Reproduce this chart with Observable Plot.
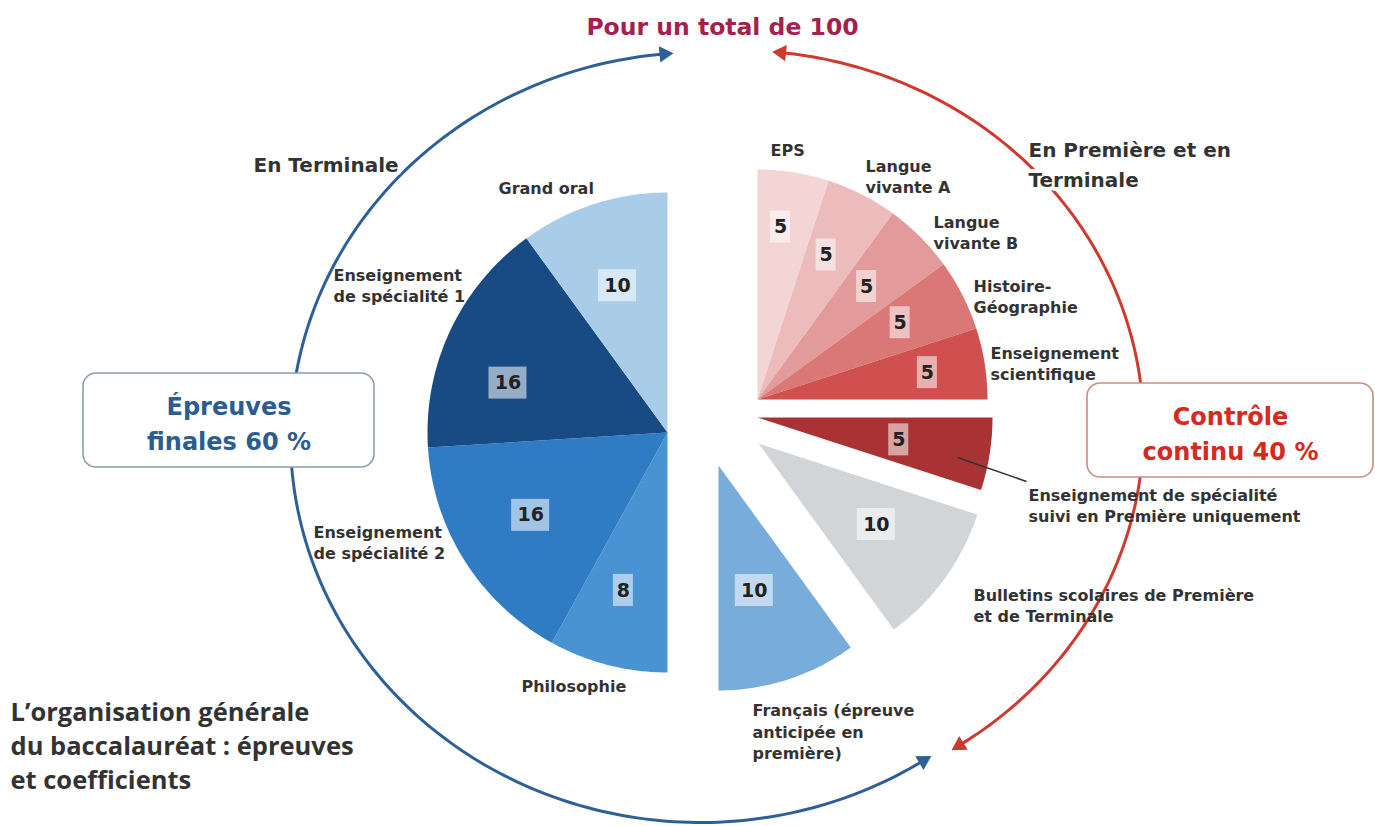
<!DOCTYPE html>
<html><head><meta charset="utf-8">
<script src="https://cdn.jsdelivr.net/npm/d3@7"></script>
<script src="https://cdn.jsdelivr.net/npm/@observablehq/plot@0.6"></script>
<style>html,body{margin:0;padding:0;background:#fff}svg{display:block}</style>
</head><body><div id="chart"></div>
<script>
// ---------- DATA (clockwise from 12 o'clock) ----------
const epreuves = ["EPS","Langue vivante A","Langue vivante B","Histoire-Géographie","Enseignement scientifique","Enseignement de spécialité suivi en Première uniquement","Bulletins scolaires de Première et de Terminale","Français (épreuve anticipée en première)","Philosophie","Enseignement de spécialité 2","Enseignement de spécialité 1","Grand oral"];
const coefficients = [5,5,5,5,5,5,10,10,8,16,16,10];
const modalites = ["Contrôle continu","Contrôle continu","Contrôle continu","Contrôle continu","Contrôle continu","Contrôle continu","Contrôle continu","Épreuves finales","Épreuves finales","Épreuves finales","Épreuves finales","Épreuves finales"];
const etiquettes = ["EPS","Langue\nvivante A","Langue\nvivante B","Histoire-\nGéographie","Enseignement\nscientifique","Enseignement de spécialité\nsuivi en Première uniquement","Bulletins scolaires de Première\net de Terminale","Français (épreuve\nanticipée en\npremière)","Philosophie","Enseignement\nde spécialité 2","Enseignement\nde spécialité 1","Grand oral"];
const titreTotal = "Pour un total de 100";
const titresGroupes = ["Épreuves\nfinales 60 %","Contrôle\ncontinu 40 %"];
const periodes = ["En Terminale","En Première et en\nTerminale"];
const titre = "L’organisation générale\ndu baccalauréat : épreuves\net coefficients";

// ---------- STYLE / LAYOUT ----------
const colors = ["#f4d5d6","#ecbcbc","#e29a9a","#da7878","#d0504f","#a93334","#d1d5d7","#78acdb","#4a93d3","#2f7bc4","#184a84","#a9cde9"];
const sliceGeom = [
  {cx:757,cy:399,r:230},{cx:757,cy:399,r:230},{cx:757,cy:399,r:230},{cx:757,cy:399,r:230},{cx:757,cy:399,r:230},
  {cx:757,cy:417,r:235},{cx:758,cy:443,r:230},{cx:718,cy:465,r:225},
  {cx:667,cy:432,r:240},{cx:667,cy:432,r:240},{cx:667,cy:432,r:240},{cx:667,cy:432,r:240}
];
const numR = [174,160,157,162,172,143,143,130,164,160,167,155];
const numShift = [-1.4,-1.6,-1,-1.3,0,0,-1.5,2,1.2,1.2,-8,-0.8];
const labelPos = [
  {x:770,y:148},{x:865,y:175},{x:933,y:231},{x:973,y:295},{x:990,y:362},
  {x:1028,y:504},{x:973,y:604},{x:752,y:730},{x:521,y:684},{x:313,y:541},{x:333,y:284},{x:498,y:186}
];
const F = "DejaVu Sans, Arial, sans-serif";
const deg = Math.PI/180;

// ---------- DERIVED ----------
let cum = 0;
const slices = coefficients.map((v,i) => {
  const a0 = cum*3.6; cum += v; const a1 = cum*3.6;
  const g = sliceGeom[i];
  const am = ((a0+a1)/2 + numShift[i])*deg;
  return {i, name: epreuves[i], value: v, group: modalites[i], a0, a1, ...g, color: colors[i],
    lx: g.cx + numR[i]*Math.sin(am), ly: g.cy - numR[i]*Math.cos(am), w: 18*String(v).length + 2};
});
const poly = slices.flatMap(s => {
  const out = [{k:s.i, x:s.cx, y:s.cy, color:s.color}];
  const n = Math.ceil(s.a1 - s.a0);
  for (let j=0;j<=n;j++){ const a=(s.a0+(s.a1-s.a0)*j/n)*deg; out.push({k:s.i, x:s.cx+s.r*Math.sin(a), y:s.cy-s.r*Math.cos(a), color:s.color}); }
  return out;
});
const arcs = [
  {k:"fin", cx:700, cy:437, rx:410, ry:385, t0:264.5, t1:57.5, color:"#2d6096"},
  {k:"cc",  cx:738, cy:428, rx:405, ry:378, t0:-83.5, t1:56.5, color:"#cf3a2f"}
];
const arcPts = arcs.flatMap(e => d3.range(0,201).map(j => { const t=(e.t0+(e.t1-e.t0)*j/200)*deg; return {k:e.k, color:e.color, x:e.cx+e.rx*Math.cos(t), y:e.cy+e.ry*Math.sin(t)}; }));
const heads = arcs.flatMap(e => [[e.t0, -1],[e.t1, 1]].map(([t, sgn]) => {
  const s = Math.sign(e.t1-e.t0)*sgn; const tr=t*deg;
  const dx = -e.rx*Math.sin(tr)*s, dy = e.ry*Math.cos(tr)*s;
  const L = Math.hypot(dx,dy);
  return {x:e.cx+e.rx*Math.cos(tr)+dx/L*3, y:e.cy+e.ry*Math.sin(tr)+dy/L*3, rot: Math.atan2(dx,-dy)/deg, color:e.color};
}));
const boxes = [
  {x1:83,x2:374,y1:373,y2:467,stroke:"#8c9db0",color:"#2c5d92",text:titresGroupes[0]},
  {x1:1087,x2:1373,y1:383,y2:477,stroke:"#cf8a84",color:"#d42a20",text:titresGroupes[1]}
];

const chart = Plot.plot({
  width:1375, height:826, margin:0,
  x:{domain:[0,1375], range:[0,1375], axis:null},
  y:{domain:[0,826], range:[0,826], axis:null},
  style:{background:"#fff"},
  marks:[
    Plot.line(arcPts, {x:"x", y:"y", z:"k", stroke:"color", strokeWidth:3}),
    Plot.dot(heads, {x:"x", y:"y", symbol:"triangle", r:6, rotate:"rot", fill:"color", stroke:null}),
    Plot.rect(boxes, {x1:"x1", x2:"x2", y1:"y1", y2:"y2", fill:"#fff", stroke:"stroke", strokeWidth:1.6, rx:13}),
    Plot.text(boxes, {x:d=>(d.x1+d.x2)/2, y:d=>(d.y1+d.y2)/2+1, text:"text", fill:"color", fontSize:24, fontWeight:"bold", fontFamily:F, lineHeight:1.45}),
    Plot.line(poly, {x:"x", y:"y", z:"k", fill:"color", stroke:null, curve:"linear-closed"}),
    Plot.rect(slices, {x1:d=>d.lx-d.w/2, x2:d=>d.lx+d.w/2, y1:d=>d.ly-16, y2:d=>d.ly+16, fill:"#fff", fillOpacity:0.55}),
    Plot.text(slices, {x:"lx", y:"ly", text:d=>String(d.value), fontSize:19, fontWeight:"bold", fontFamily:F, fill:"#222"}),
    Plot.text(slices, {x:(d,i)=>labelPos[i].x, y:(d,i)=>labelPos[i].y, text:(d,i)=>etiquettes[i], textAnchor:"start", fontSize:16, fontWeight:"bold", fontFamily:F, fill:"#333", lineHeight:1.37}),
    Plot.link([0], {x1:957, y1:457, x2:1026, y2:481, stroke:"#333", strokeWidth:1.5}),
    Plot.text([titreTotal], {x:722, y:27, text:d=>d, fontSize:23.5, fontWeight:"bold", fontFamily:F, fill:"#a6204e"}),
    Plot.text([periodes[0]], {x:253, y:165, text:d=>d, textAnchor:"start", fontSize:20, fontWeight:"bold", fontFamily:F, fill:"#333", stroke:"#fff", strokeWidth:8}),
    Plot.text([periodes[1]], {x:1028, y:162, text:d=>d, textAnchor:"start", fontSize:20, fontWeight:"bold", fontFamily:F, fill:"#333", lineHeight:1.5, stroke:"#fff", strokeWidth:8}),
    Plot.text([titre], {x:10, y:744, text:d=>d, textAnchor:"start", fontSize:25.5, fontWeight:"bold", fontFamily:"Open Sans, sans-serif", fill:"#333", lineHeight:1.33, letterSpacing:-0.7})
  ]
});
document.getElementById("chart").append(chart);
</script>
</body></html>
